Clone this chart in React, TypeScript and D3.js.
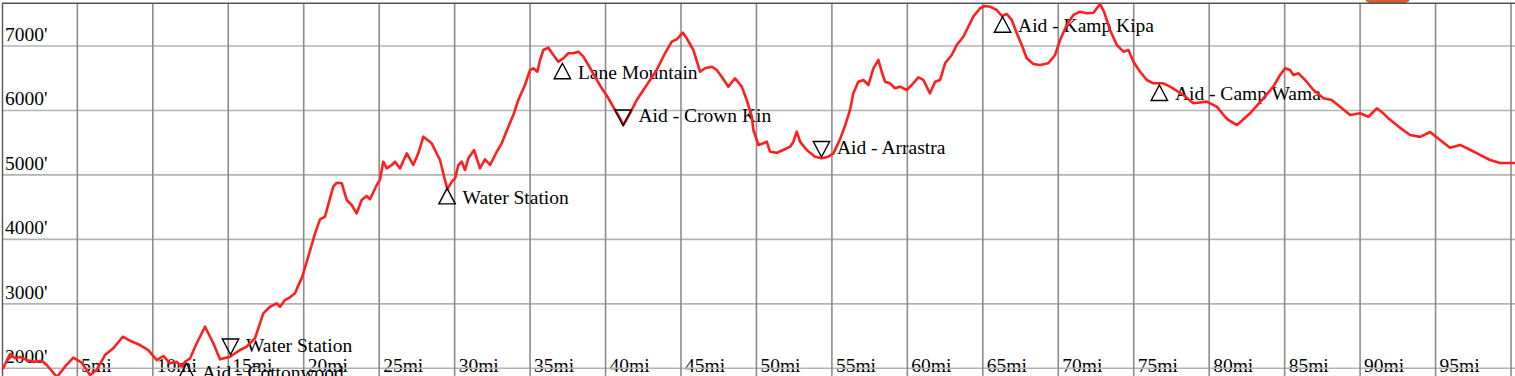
import React from "react";
import * as d3 from "d3";

// Elevation profile (miles, feet)
const miles = [
  0.05, 0.54, 0.87, 1.2, 1.64, 2.08, 2.64, 2.97, 3.65, 4.18, 4.73, 5.29, 5.84, 6.28, 6.83, 7.38, 8.01, 8.49, 9.15, 9.7,
  10.26, 10.7, 11.14, 11.58, 11.92, 12.13, 12.47, 12.91, 13.46, 14.01, 14.45, 15.12, 15.78, 16.22, 16.77, 17.32, 17.77, 18.21, 18.43, 18.76,
  19.09, 19.42, 19.75, 19.87, 20.3, 20.75, 21.08, 21.41, 21.74, 21.96, 22.19, 22.52, 22.85, 23.18, 23.51, 23.84, 24.17, 24.39, 24.84, 25.06,
  25.27, 25.5, 25.83, 26.05, 26.38, 26.83, 27.26, 27.59, 27.93, 28.48, 29.03, 29.36, 29.52, 29.81, 30.03, 30.25, 30.47, 30.69, 30.91, 31.29,
  31.68, 32.01, 32.35, 32.79, 33.12, 33.56, 33.89, 34.22, 34.66, 35.0, 35.22, 35.48, 35.66, 35.88, 36.21, 36.54, 36.87, 37.2, 37.53, 37.87,
  38.2, 38.53, 38.86, 39.3, 39.75, 40.19, 40.63, 40.96, 41.18, 41.62, 42.07, 42.73, 43.39, 43.94, 44.39, 44.72, 45.12, 45.38, 45.82, 46.26,
  46.59, 47.04, 47.37, 47.7, 48.14, 48.58, 49.03, 49.36, 49.69, 49.8, 50.13, 50.46, 50.68, 50.9, 51.35, 51.78, 52.23, 52.45, 52.67, 52.89,
  53.33, 53.88, 54.33, 54.76, 55.1, 55.54, 55.87, 56.2, 56.42, 56.75, 57.09, 57.42, 57.75, 58.08, 58.3, 58.52, 58.85, 59.18, 59.52, 59.96,
  60.29, 60.73, 61.06, 61.5, 61.84, 62.17, 62.5, 62.94, 63.27, 63.71, 64.04, 64.37, 64.82, 65.15, 65.48, 65.92, 66.26, 66.59, 66.92, 67.25,
  67.58, 67.91, 68.35, 68.79, 69.34, 69.79, 70.12, 70.56, 71.0, 71.44, 71.89, 72.33, 72.77, 73.03, 73.43, 73.88, 74.32, 74.65, 74.98, 75.42,
  75.87, 76.3, 76.96, 77.41, 78.29, 78.95, 79.84, 80.5, 81.05, 81.27, 81.85, 82.71, 83.59, 84.25, 84.7, 85.03, 85.36, 85.58, 85.91, 86.36,
  86.91, 87.57, 88.12, 88.67, 89.34, 90.0, 90.55, 91.11, 91.54, 91.87, 92.65, 93.31, 93.98, 94.64, 95.3, 95.96, 96.63, 97.29, 97.95, 98.61,
  99.28, 100.27,
];
const elevs = [
  1985, 2220, 2155, 2175, 2130, 2100, 2118, 2051, 1865, 2025, 2164, 2087, 1896, 1973, 2206, 2310, 2490, 2428, 2361, 2283,
  2128, 2191, 2077, 2102, 2025, 2102, 2155, 2388, 2645, 2388, 2139, 2180, 2284, 2335, 2465, 2853, 2955, 3008, 2955, 3059,
  3101, 3163, 3343, 3396, 3731, 4094, 4311, 4352, 4637, 4817, 4879, 4870, 4611, 4533, 4404, 4611, 4673, 4622, 4843, 4932,
  5205, 5102, 5154, 5205, 5102, 5335, 5154, 5335, 5593, 5490, 5231, 4921, 4777, 4895, 4947, 5154, 5205, 5076, 5258, 5386,
  5102, 5242, 5154, 5360, 5490, 5748, 5930, 6162, 6395, 6628, 6654, 6601, 6783, 6938, 6974, 6860, 6756, 6809, 6887, 6887,
  6912, 6834, 6705, 6524, 6344, 6189, 6007, 5878, 5774, 5956, 6162, 6395, 6628, 6887, 7067, 7104, 7206, 7119, 6938, 6601,
  6654, 6679, 6628, 6524, 6369, 6499, 6369, 6162, 5903, 5697, 5464, 5490, 5516, 5360, 5345, 5386, 5438, 5516, 5671, 5516,
  5386, 5283, 5258, 5283, 5335, 5555, 5762, 6007, 6266, 6446, 6473, 6395, 6654, 6783, 6601, 6446, 6421, 6344, 6369, 6317,
  6395, 6514, 6473, 6266, 6446, 6473, 6732, 6860, 7016, 7144, 7299, 7455, 7585, 7621, 7610, 7559, 7465, 7496, 7403, 7197,
  7016, 6809, 6721, 6705, 6732, 6860, 7093, 7326, 7481, 7532, 7507, 7517, 7652, 7532, 7248, 7016, 6912, 6938, 6756, 6601,
  6473, 6421, 6421, 6369, 6240, 6111, 6137, 6059, 5903, 5852, 5774, 5956, 6189, 6369, 6550, 6654, 6628, 6550, 6576, 6473,
  6317, 6189, 6162, 6058, 5930, 5956, 5903, 6033, 5956, 5878, 5730, 5620, 5590, 5666, 5542, 5420, 5466, 5390, 5310, 5232,
  5185, 5185,
];

// Waypoints
const markerNames = [
  "Aid - Cottonwood", "Water Station", "Water Station", "Lane Mountain",
  "Aid - Crown Kin", "Aid - Arrastra", "Aid - Kamp Kipa", "Aid - Camp Wama",
];
const markerMiles = [12.23, 15.15, 29.5, 37.14, 41.16, 54.31, 66.31, 76.7];
const markerElevs = [2074, 2214, 4792, 6732, 5767, 5278, 7454, 6395];
const markerDirs = ["up", "down", "up", "up", "down", "down", "up", "up"];

const gridMiles = [5, 10, 15, 20, 25, 30, 35, 40, 45, 50, 55, 60, 65, 70, 75, 80, 85, 90, 95, 100];
const xTicks = [5, 10, 15, 20, 25, 30, 35, 40, 45, 50, 55, 60, 65, 70, 75, 80, 85, 90, 95];
const xTickLabels = ["5mi", "10mi", "15mi", "20mi", "25mi", "30mi", "35mi", "40mi", "45mi", "50mi", "55mi", "60mi", "65mi", "70mi", "75mi", "80mi", "85mi", "90mi", "95mi"];
const yTicks = [2000, 3000, 4000, 5000, 6000, 7000];
const yTickLabels = ["2000'", "3000'", "4000'", "5000'", "6000'", "7000'"];

const W = 1515;
const H = 376;
const FONT = "Liberation Serif, Times New Roman, DejaVu Serif, serif";
const textStyle = { fontFamily: FONT, fontSize: "19.5px" };

export default function App() {
  const x = d3.scaleLinear().domain([0, 100]).range([1.9, 1511]);
  const y = d3.scaleLinear().domain([2000, 7000]).range([368.3, 46]);

  const pts: [number, number][] = miles.map((m, i) => [m, elevs[i]]);
  const line = d3
    .line<[number, number]>()
    .x((d) => x(d[0]))
    .y((d) => y(d[1]))
    .curve(d3.curveLinear);

  const tri = (cx: number, py: number, dir: string) => {
    const hw = 8.2;
    const h = 15.5;
    if (dir === "up") {
      return `M${cx},${py} L${cx + hw},${py + h} L${cx - hw},${py + h} Z`;
    }
    return `M${cx},${py} L${cx + hw},${py - h} L${cx - hw},${py - h} Z`;
  };

  return (
    <svg
      width={W}
      height={H}
      style={{ position: "absolute", left: 0, top: 0, background: "#fff" }}
    >
      <rect x={0} y={0} width={W} height={H} fill="#fff" />
      {/* page fragment above chart */}
      <rect x={1365} y={-10} width={45} height={13} rx={5} fill="#d2612f" />

      {/* tick labels */}
      {yTicks.map((t, i) => (
        <text key={"yl" + t} x={5} y={y(t) - 5} style={textStyle} fill="#000">
          {yTickLabels[i]}
        </text>
      ))}
      {xTicks.map((t, i) => (
        <text key={"xl" + t} x={x(t) + 4} y={372} style={textStyle} fill="#000">
          {xTickLabels[i]}
        </text>
      ))}

      {/* grid */}
      {yTicks.map((t) => (
        <line key={"hy" + t} x1={2} x2={W} y1={y(t)} y2={y(t)} stroke="#b3b3b3" strokeWidth={1.6} />
      ))}
      {gridMiles.map((t) => (
        <line key={"vx" + t} x1={x(t)} x2={x(t)} y1={3} y2={H} stroke="#8c8c8c" strokeWidth={1.6} />
      ))}
      <line x1={2.5} x2={2.5} y1={3} y2={H} stroke="#555" strokeWidth={1.4} />
      <line x1={2} x2={W} y1={3.3} y2={3.3} stroke="#555" strokeWidth={1.4} />

      {/* marker labels */}
      {markerNames.map((name, i) => {
        const cx = x(markerMiles[i]);
        const py = y(markerElevs[i]);
        const up = markerDirs[i] === "up";
        const base = up ? py + 15.5 : py - 3;
        return (
          <text key={"mt" + i} x={cx + 15.5} y={base} style={textStyle} fill="#000">
            {name}
          </text>
        );
      })}

      {/* elevation line */}
      <path d={line(pts) || ""} fill="none" stroke="#ff1f1f" strokeWidth={2.6} strokeLinejoin="round" />

      {/* marker triangles */}
      {markerNames.map((name, i) => (
        <path
          key={"mp" + i}
          d={tri(x(markerMiles[i]), y(markerElevs[i]), markerDirs[i])}
          fill="none"
          stroke="#000"
          strokeWidth={1.4}
          strokeLinejoin="miter"
        />
      ))}
    </svg>
  );
}
